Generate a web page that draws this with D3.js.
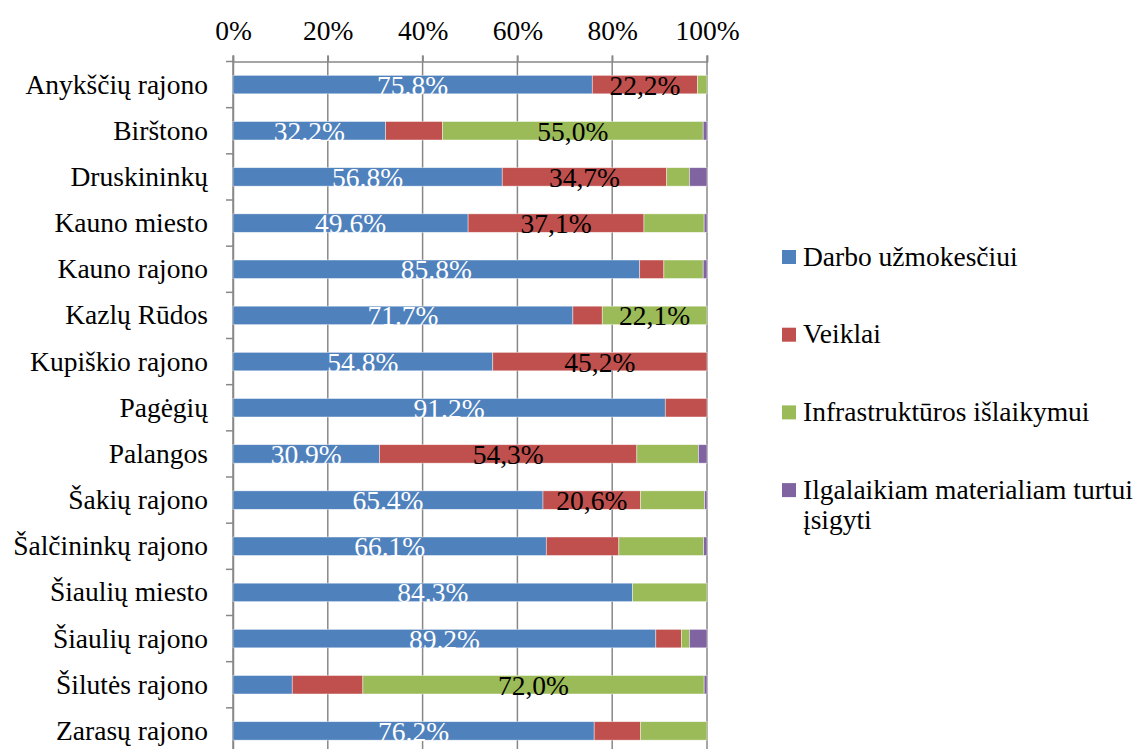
<!DOCTYPE html>
<html>
<head>
<meta charset="utf-8">
<script src="https://cdnjs.cloudflare.com/ajax/libs/d3/7.8.5/d3.min.js"></script>
<style>
  body { margin: 0; background: #fff; }
</style>
</head>
<body>
<div id="chart"></div>
<script>
// Data (share of spending, %)
const categories = ["Anykščių rajono", "Birštono", "Druskininkų", "Kauno miesto", "Kauno rajono",
  "Kazlų Rūdos", "Kupiškio rajono", "Pagėgių", "Palangos", "Šakių rajono",
  "Šalčininkų rajono", "Šiaulių miesto", "Šiaulių rajono", "Šilutės rajono", "Zarasų rajono"];
const darbo = [75.8, 32.2, 56.8, 49.6, 85.8, 71.7, 54.8, 91.2, 30.9, 65.4, 66.1, 84.3, 89.2, 12.5, 76.2];
const veiklai = [22.2, 12.0, 34.7, 37.1, 5.1, 6.2, 45.2, 8.8, 54.3, 20.6, 15.3, 0, 5.4, 14.9, 9.8];
const infra = [2.0, 55.0, 4.8, 12.7, 8.3, 22.1, 0, 0, 13.0, 13.5, 17.9, 15.7, 1.7, 72.0, 14.0];
const turtas = [0, 0.8, 3.7, 0.6, 0.8, 0, 0, 0, 1.8, 0.5, 0.7, 0, 3.7, 0.6, 0];
const seriesNames = ["Darbo užmokesčiui", "Veiklai", "Infrastruktūros išlaikymui", "Ilgalaikiam materialiam turtui įsigyti"];
const colors = ["#4f81bd", "#c0504d", "#9bbb59", "#8064a2"];
const xTicks = [0, 20, 40, 60, 80, 100];

const width = 1148, height = 749;
const plotLeft = 233, plotRight = 707, plotTop = 61.5, plotBottom = 754;
const fontFamily = "'Liberation Serif', 'DejaVu Serif', serif";
const fontSize = "27.5px";

const svg = d3.select("#chart")
  .append("svg")
  .attr("width", width)
  .attr("height", height)
  .style("font-family", fontFamily);

// build rows for stacking
const rows = categories.map((c, i) => ({
  cat: c, s0: darbo[i], s1: veiklai[i], s2: infra[i], s3: turtas[i]
}));
const stack = d3.stack().keys(["s0", "s1", "s2", "s3"]);
const layers = stack(rows);

const x = d3.scaleLinear().domain([0, 100]).range([plotLeft, plotRight]);
const y = d3.scaleBand().domain(categories).range([plotTop, plotBottom])
  .paddingInner(0.6).paddingOuter(0.3);

// gridlines
svg.append("g")
  .selectAll("line")
  .data(xTicks)
  .enter()
  .append("line")
  .attr("x1", d => x(d)).attr("x2", d => x(d))
  .attr("y1", plotTop - 6).attr("y2", plotBottom)
  .attr("stroke", "#888")
  .attr("stroke-width", 1.5);

// top axis
const xAxis = svg.append("g")
  .attr("transform", `translate(0,${plotTop})`)
  .call(d3.axisTop(x).tickValues(xTicks).tickSize(6).tickFormat(d => d + "%"));
xAxis.attr("font-family", null);
xAxis.select(".domain").attr("stroke", "#888").attr("stroke-width", 1.5);
xAxis.selectAll(".tick line").attr("stroke", "#888").attr("stroke-width", 1.5);
xAxis.selectAll(".tick text")
  .attr("y", -22)
  .attr("fill", "#000")
  .style("font-family", fontFamily)
  .style("font-size", fontSize);

// left axis with ticks between categories
const yAxis = svg.append("g")
  .attr("transform", `translate(${plotLeft},0)`)
  .call(d3.axisLeft(y).tickSize(0).tickPadding(25));
yAxis.attr("font-family", null);
yAxis.select(".domain").attr("stroke", "#888").attr("stroke-width", 1.5);
yAxis.selectAll(".tick text")
  .attr("fill", "#000")
  .attr("dy", "0.33em")
  .style("font-family", fontFamily)
  .style("font-size", fontSize);
const step = y.step();
svg.append("g")
  .selectAll("line")
  .data(d3.range(categories.length + 1))
  .enter()
  .append("line")
  .attr("x1", plotLeft - 7).attr("x2", plotLeft)
  .attr("y1", i => plotTop + i * step).attr("y2", i => plotTop + i * step)
  .attr("stroke", "#888")
  .attr("stroke-width", 1.5);

// bars
const layerG = svg.append("g")
  .selectAll("g")
  .data(layers)
  .enter()
  .append("g")
  .attr("fill", (d, i) => colors[i]);

layerG.selectAll("rect")
  .data(d => d)
  .enter()
  .append("rect")
  .attr("x", d => x(d[0]))
  .attr("y", d => y(d.data.cat))
  .attr("width", d => x(d[1]) - x(d[0]))
  .attr("height", y.bandwidth())
  .attr("stroke", "#fff")
  .attr("stroke-opacity", 0.6)
  .attr("stroke-width", 0.7);

// data labels (only on wide segments)
const fmt = d3.format(".1f");
layers.forEach((layer, i) => {
  svg.append("g")
    .selectAll("text")
    .data(layer.filter(d => d[1] - d[0] >= 20))
    .enter()
    .append("text")
    .attr("x", d => x((d[0] + d[1]) / 2))
    .attr("y", d => y(d.data.cat) + y.bandwidth() / 2 + 10)
    .attr("text-anchor", "middle")
    .attr("fill", i === 0 ? "#fff" : "#000")
    .style("font-family", fontFamily)
    .style("font-size", fontSize)
    .text(d => {
      const s = fmt(d[1] - d[0]);
      return (i === 0 ? s : s.replace(".", ",")) + "%";
    });
});

// legend
const legend = svg.append("g")
  .selectAll("g")
  .data(seriesNames)
  .enter()
  .append("g")
  .attr("transform", (d, i) => `translate(782,${250 + i * 77.7})`);

legend.append("rect")
  .attr("width", 14).attr("height", 14)
  .attr("fill", (d, i) => colors[i]);

legend.each(function(d, i) {
  const g = d3.select(this);
  const lines = i === 3 ? ["Ilgalaikiam materialiam turtui", "įsigyti"] : [d];
  lines.forEach((t, j) => {
    g.append("text")
      .attr("x", 21)
      .attr("y", 15.5 + j * 30)
      .attr("fill", "#000")
      .style("font-family", fontFamily)
      .style("font-size", fontSize)
      .text(t);
  });
});
</script>
</body>
</html>
